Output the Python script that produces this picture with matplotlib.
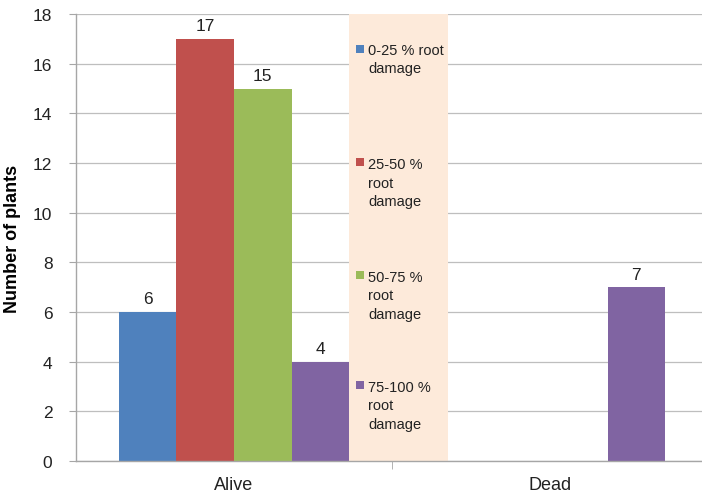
import matplotlib
matplotlib.use("Agg")
import matplotlib.pyplot as plt
import numpy as np
from matplotlib.patches import Rectangle

# plant status categories and counts per root-damage class
categories = ["Alive", "Dead"]
damage_classes = ["0-25 % root damage", "25-50 % root damage",
                  "50-75 % root damage", "75-100 % root damage"]
legend_labels = ["0-25 % root\ndamage", "25-50 %\nroot\ndamage",
                 "50-75 %\nroot\ndamage", "75-100 %\nroot\ndamage"]
counts_0_25 = [6, 0]
counts_25_50 = [17, 0]
counts_50_75 = [15, 0]
counts_75_100 = [4, 7]
yticks = [0, 2, 4, 6, 8, 10, 12, 14, 16, 18]

series = [counts_0_25, counts_25_50, counts_50_75, counts_75_100]
colors = ["#4F81BD", "#C0504D", "#9BBB59", "#8064A2"]

plt.rcParams['font.family'] = ['Liberation Sans', 'DejaVu Sans']

fig = plt.figure(figsize=(7.02, 5.02), dpi=100)
ax = fig.add_axes([76 / 702, 40 / 502, 626 / 702, 447 / 502])

x = np.arange(len(categories))
width = 0.182
for i, (vals, col) in enumerate(zip(series, colors)):
    offs = (i - 1.5) * width
    bars = ax.bar(x + offs, vals, width, color=col, zorder=2, label=damage_classes[i])
    ax.bar_label(bars, labels=[str(v) if v else "" for v in vals],
                 padding=4, fontsize=12.5, color="#222222")

ax.set_xlim(-0.5, 1.481)
ax.set_ylim(0, 18)
ax.set_yticks(yticks)
ax.set_xticks(x)
ax.set_xticklabels(categories)
ax.set_xticks([0.5], minor=True)

ax.grid(axis="y", color="#BEBEBE", linewidth=0.9, zorder=0)
ax.set_axisbelow(True)
for s in ["top", "right"]:
    ax.spines[s].set_visible(False)
for s in ["left", "bottom"]:
    ax.spines[s].set_color("#A6A6A6")
    ax.spines[s].set_linewidth(1.0)

ax.tick_params(axis="y", length=5, color="#A6A6A6", labelsize=12.5, labelcolor="#222222", pad=12)
ax.tick_params(axis="x", which="major", length=0, labelsize=13, labelcolor="#222222", pad=11)
ax.tick_params(axis="x", which="minor", length=6, color="#A6A6A6")

ax.set_ylabel("Number of plants", fontsize=13, fontweight="bold", labelpad=9)

# legend panel sitting inside the plot area
lx0 = (349 - 76) / 626
lx1 = (448 - 76) / 626
ax.add_patch(Rectangle((lx0, 0), lx1 - lx0, 1, transform=ax.transAxes,
                       facecolor="#FDEADA", edgecolor="none", zorder=1.5))

line_gap = 20.5 / 447
first_line_y = [1 - (yy - 15) / 447 for yy in [50, 163, 276, 386]]
sq_w = 8 / 626
sq_h = 8 / 447
for lab, col, y0 in zip(legend_labels, colors, first_line_y):
    n = lab.count("\n") + 1
    ax.add_patch(Rectangle(((356 - 76) / 626, y0 - sq_h / 2), sq_w, sq_h,
                           transform=ax.transAxes, facecolor=col,
                           edgecolor="none", zorder=3))
    ax.text((368 - 76) / 626, y0 - (n - 1) * line_gap / 2, lab,
            transform=ax.transAxes, va="center", ha="left",
            fontsize=10.5, color="#222222", linespacing=1.4, zorder=3)

fig.savefig("out.png", dpi=100)
